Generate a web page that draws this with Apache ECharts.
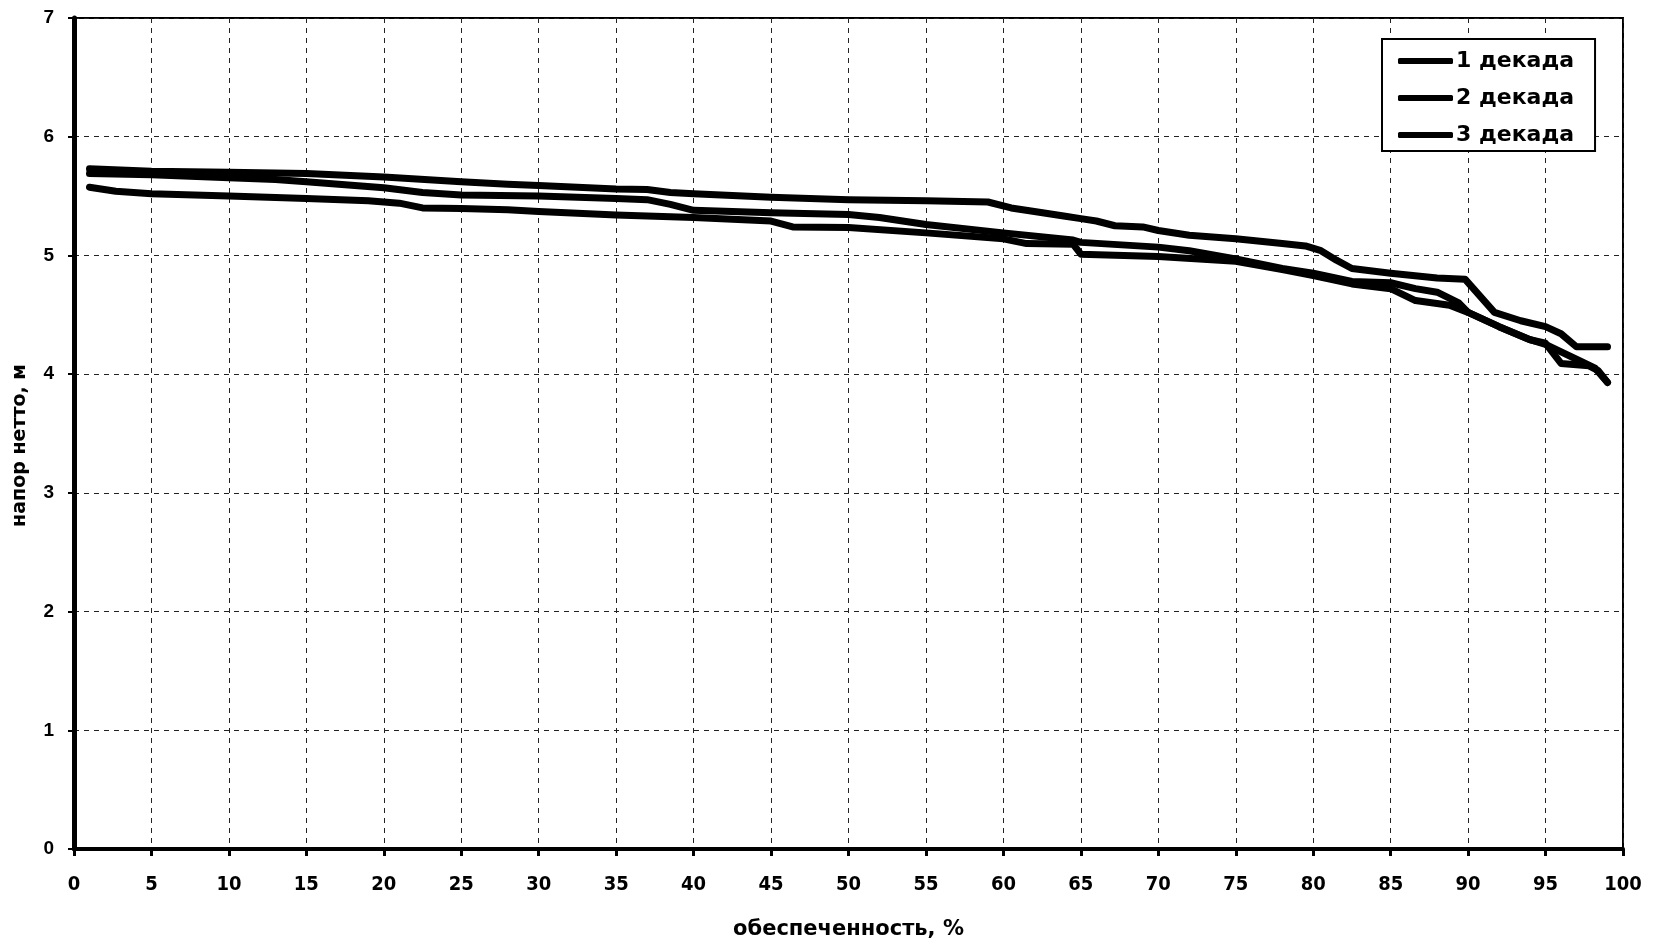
<!DOCTYPE html>
<html>
<head>
<meta charset="utf-8">
<script src="https://cdn.jsdelivr.net/npm/echarts@6/dist/echarts.min.js"></script>
<style>
html,body{margin:0;padding:0;background:#fff;}
#chart{width:1654px;height:945px;}
</style>
</head>
<body>
<div id="chart"></div>
<script>
const seriesNames = ['1 декада', '2 декада', '3 декада'];
const xAxisTitle = 'обеспеченность, %';
const yAxisTitle = 'напор нетто, м';

const x1 = [1, 3, 5, 10, 15, 20, 25, 28, 30, 35, 37, 38.5, 40, 45, 50, 55, 59, 60.5, 62, 64, 65, 66, 67.2, 69, 70, 72, 75, 78, 79.5, 80.5, 81.5, 82.5, 85, 88, 89.8, 91.7, 93.4, 95, 96, 97, 99];
const y1 = [5.73, 5.72, 5.71, 5.70, 5.69, 5.66, 5.62, 5.60, 5.59, 5.56, 5.555, 5.53, 5.52, 5.49, 5.47, 5.46, 5.45, 5.40, 5.37, 5.33, 5.31, 5.29, 5.25, 5.24, 5.21, 5.17, 5.14, 5.10, 5.08, 5.04, 4.96, 4.89, 4.85, 4.81, 4.80, 4.52, 4.45, 4.40, 4.34, 4.23, 4.23];

const x2 = [1, 5, 10, 13, 15, 20, 22.5, 25, 30, 35, 37, 38.5, 40, 45, 50, 52, 55, 60, 64.5, 65, 70, 72, 75, 78, 80, 82.5, 85, 86.6, 88, 89.4, 90, 92, 94, 95, 96, 97.8, 98.4, 99];
const y2 = [5.69, 5.68, 5.655, 5.64, 5.62, 5.57, 5.53, 5.51, 5.50, 5.48, 5.47, 5.43, 5.38, 5.36, 5.345, 5.32, 5.26, 5.19, 5.13, 5.11, 5.07, 5.04, 4.97, 4.89, 4.85, 4.78, 4.77, 4.72, 4.69, 4.60, 4.52, 4.40, 4.29, 4.26, 4.09, 4.07, 4.03, 3.93];

const x3 = [1, 2.7, 5, 10, 15, 19, 21, 22.5, 25, 28, 30, 35, 40, 45, 46.4, 50, 55, 60, 61.5, 64.5, 65, 70, 75, 78, 80, 82.5, 85, 86.6, 88.8, 90, 92, 94, 95, 97.4, 98.2, 99];
const y3 = [5.575, 5.54, 5.52, 5.50, 5.48, 5.46, 5.44, 5.40, 5.395, 5.385, 5.37, 5.34, 5.32, 5.29, 5.24, 5.235, 5.19, 5.14, 5.10, 5.095, 5.01, 4.99, 4.95, 4.88, 4.83, 4.76, 4.72, 4.62, 4.58, 4.52, 4.40, 4.29, 4.25, 4.10, 4.05, 3.93];

const xs = [x1, x2, x3];
const ys = [y1, y2, y3];

const chart = echarts.init(document.getElementById('chart'), null, {renderer: 'canvas'});

const series = seriesNames.map((name, i) => ({
  name: name,
  type: 'line',
  data: xs[i].map((x, k) => [x, ys[i][k]]),
  showSymbol: false,
  symbol: 'none',
  smooth: false,
  lineStyle: {color: '#000', width: 7, cap: 'round', join: 'round'},
  itemStyle: {color: '#000'},
  emphasis: {disabled: true},
  animation: false
}));

const tickFont = '"Liberation Sans Narrow", "DejaVu Sans Condensed", "Liberation Sans", Arial, sans-serif';

chart.setOption({
  animation: false,
  backgroundColor: '#fff',
  grid: {left: 74, right: 31, top: 18, bottom: 90, show: true, borderColor: '#000', borderWidth: 2, backgroundColor: 'transparent'},
  legend: {
    data: seriesNames,
    orient: 'vertical',
    left: 1382, top: 39,
    padding: [11, 21, 5, 16],
    borderColor: '#000', borderWidth: 2,
    backgroundColor: '#fff',
    icon: 'roundRect',
    itemWidth: 55, itemHeight: 6,
    itemGap: 15,
    itemStyle: {color: '#000'},
    textStyle: {fontFamily: 'DejaVu Sans', fontWeight: 'bold', fontSize: 22, color: '#000', padding: [0, 0, 0, -2], lineHeight: 22}
  },
  xAxis: {
    type: 'value', min: 0, max: 100, interval: 5,
    name: xAxisTitle, nameLocation: 'middle', nameGap: 70,
    nameTextStyle: {fontFamily: 'DejaVu Sans', fontWeight: 'bold', fontSize: 21, color: '#000'},
    axisLine: {show: true, onZero: false, lineStyle: {color: '#000', width: 4}},
    axisTick: {show: true, inside: false, length: 7, lineStyle: {color: '#000', width: 3}},
    axisLabel: {margin: 26, fontFamily: tickFont, fontWeight: 'bold', fontSize: 20, color: '#000'},
    splitLine: {show: true, lineStyle: {color: '#222', width: 1, type: [5, 5]}}
  },
  yAxis: {
    type: 'value', min: 0, max: 7, interval: 1,
    name: yAxisTitle, nameLocation: 'middle', nameGap: 44, nameRotate: 90,
    nameTextStyle: {fontFamily: 'DejaVu Sans', fontWeight: 'bold', fontSize: 19, color: '#000', padding: [0, 24, 0, 0]},
    axisLine: {show: true, onZero: false, lineStyle: {color: '#000', width: 5}},
    axisTick: {show: true, inside: false, length: 6, lineStyle: {color: '#000', width: 2}},
    axisLabel: {margin: 20, fontFamily: '"Liberation Sans", Arial, sans-serif', fontWeight: 'bold', fontSize: 19, color: '#000'},
    splitLine: {show: true, lineStyle: {color: '#222', width: 1, type: [5, 5]}}
  },
  series: series
});
</script>
</body>
</html>
